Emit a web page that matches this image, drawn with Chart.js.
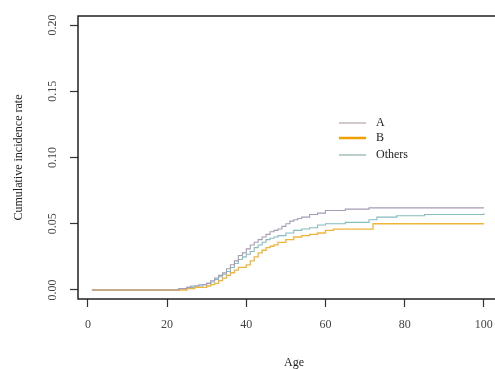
<!DOCTYPE html>
<html>
<head>
<meta charset="utf-8">
<script src="https://cdn.jsdelivr.net/npm/chart.js@4/dist/chart.umd.min.js"></script>
<style>
  html, body { margin: 0; padding: 0; background: #fff; overflow: hidden; }
  #wrap { width: 510px; height: 369px; }
</style>
</head>
<body>
<div id="wrap"><canvas id="myChart" width="510" height="369"></canvas></div>
<script>
// step curves: value becomes v at age t
var agesA = [1, 23, 25, 26, 28, 29, 30, 31, 32, 33, 34, 35, 36, 37, 38, 39, 40, 41, 42, 43, 44, 45, 46, 47, 48, 49, 50, 51, 52, 53, 54, 56, 58, 60, 65, 71, 100];
var valsA = [0, 0.001, 0.002, 0.003, 0.004, 0.004, 0.005, 0.007, 0.009, 0.011, 0.013, 0.016, 0.019, 0.022, 0.026, 0.028, 0.031, 0.034, 0.036, 0.038, 0.040, 0.042, 0.044, 0.045, 0.046, 0.048, 0.050, 0.052, 0.053, 0.054, 0.055, 0.057, 0.058, 0.060, 0.061, 0.062, 0.062];

var agesB = [1, 23, 25, 27, 29, 30, 31, 32, 33, 34, 35, 36, 37, 38, 40, 41, 42, 43, 44, 45, 46, 47, 48, 50, 52, 54, 56, 58, 60, 62, 65, 72, 100];
var valsB = [0, 0, 0.001, 0.002, 0.002, 0.003, 0.004, 0.005, 0.007, 0.009, 0.011, 0.013, 0.015, 0.017, 0.019, 0.022, 0.025, 0.028, 0.030, 0.032, 0.033, 0.034, 0.036, 0.038, 0.040, 0.041, 0.042, 0.043, 0.045, 0.046, 0.046, 0.050, 0.050];

var agesO = [1, 23, 25, 27, 29, 30, 31, 32, 33, 34, 35, 36, 37, 38, 39, 40, 41, 42, 43, 44, 45, 46, 47, 48, 50, 52, 54, 56, 58, 60, 65, 71, 73, 78, 85, 100];
var valsO = [0, 0.001, 0.002, 0.003, 0.004, 0.005, 0.006, 0.008, 0.010, 0.012, 0.014, 0.017, 0.020, 0.023, 0.025, 0.027, 0.029, 0.032, 0.034, 0.036, 0.038, 0.039, 0.040, 0.041, 0.043, 0.045, 0.046, 0.047, 0.049, 0.050, 0.051, 0.053, 0.055, 0.056, 0.057, 0.058];

var seriesNames = ["A", "B", "Others"];
var xTicks = [0, 20, 40, 60, 80, 100];
var yTicks = [0, 0.05, 0.10, 0.15, 0.20];
var yTickLabels = ["0.00", "0.05", "0.10", "0.15", "0.20"];

var serif = "'Liberation Serif', 'DejaVu Serif', serif";

function toPoints(ages, vals) {
  return ages.map(function(a, i) { return {x: a, y: vals[i]}; });
}

// R-like box, rotated y labels and the legend
var rStyle = {
  id: 'rStyle',
  afterDraw: function(chart) {
    var ctx = chart.ctx;
    var area = chart.chartArea;
    var y = chart.scales.y;
    ctx.save();
    ctx.strokeStyle = '#222';
    ctx.lineWidth = 1.5;
    ctx.strokeRect(area.left, area.top, area.right - area.left, area.bottom - area.top);

    ctx.fillStyle = '#444';
    ctx.font = '12px ' + serif;
    ctx.textAlign = 'center';
    ctx.textBaseline = 'middle';
    yTicks.forEach(function(v, i) {
      var py = y.getPixelForValue(v);
      ctx.save();
      ctx.translate(53, py);
      ctx.rotate(-Math.PI / 2);
      ctx.fillText(yTickLabels[i], 0, 0);
      ctx.restore();
    });

    // legend
    var rows = [123, 138, 155];
    chart.data.datasets.forEach(function(ds, i) {
      ctx.strokeStyle = ds.legendColor;
      ctx.lineWidth = ds.legendWidth;
      ctx.beginPath();
      ctx.moveTo(339, rows[i]);
      ctx.lineTo(366, rows[i]);
      ctx.stroke();
      ctx.fillStyle = '#222';
      ctx.textAlign = 'left';
      ctx.fillText(ds.label, 376, rows[i]);
    });
    ctx.restore();
  }
};

var ctx = document.getElementById("myChart").getContext('2d');
var myChart = new Chart(ctx, {
  type: 'line',
  data: {
    datasets: [
      {label: seriesNames[0], data: toPoints(agesA, valsA), borderColor: '#a59cb6', legendColor: '#b4a4aa', legendWidth: 1.2, borderWidth: 1.1},
      {label: seriesNames[1], data: toPoints(agesB, valsB), borderColor: '#efb53a', legendColor: '#f0a000', legendWidth: 2.5, borderWidth: 1.3},
      {label: seriesNames[2], data: toPoints(agesO, valsO), borderColor: '#86bcbc', legendColor: '#8fb0b0', legendWidth: 1.2, borderWidth: 1.1}
    ]
  },
  options: {
    responsive: false,
    animation: false,
    elements: {
      point: { radius: 0 },
      line: { stepped: true, tension: 0 }
    },
    layout: { padding: { top: 16, left: 0, right: 0, bottom: 0 } },
    plugins: {
      legend: { display: false },
      tooltip: { enabled: false }
    },
    scales: {
      x: {
        type: 'linear',
        min: -2.5,
        max: 106.6,
        afterBuildTicks: function(scale) {
          scale.ticks = xTicks.map(function(v) { return {value: v}; });
        },
        afterFit: function(scale) { scale.height = 70; },
        grid: { drawOnChartArea: false, tickLength: 8, color: '#333', tickWidth: 1.2 },
        border: { display: false },
        ticks: { color: '#444', padding: 11, maxRotation: 0, font: { family: serif, size: 12 } },
        title: { display: true, text: 'Age', color: '#222', font: { family: serif, size: 12 }, padding: { top: 0, bottom: -1 } }
      },
      y: {
        min: -0.0068,
        max: 0.2068,
        afterBuildTicks: function(scale) {
          scale.ticks = yTicks.map(function(v) { return {value: v}; });
        },
        afterFit: function(scale) { scale.width = 78; },
        grid: { drawOnChartArea: false, tickLength: 8, color: '#333', tickWidth: 1.2 },
        border: { display: false },
        ticks: { display: false },
        title: { display: true, text: 'Cumulative incidence rate', color: '#222', font: { family: serif, size: 12 }, padding: { top: 12, bottom: 0 } }
      }
    }
  },
  plugins: [rStyle]
});
</script>
</body>
</html>
